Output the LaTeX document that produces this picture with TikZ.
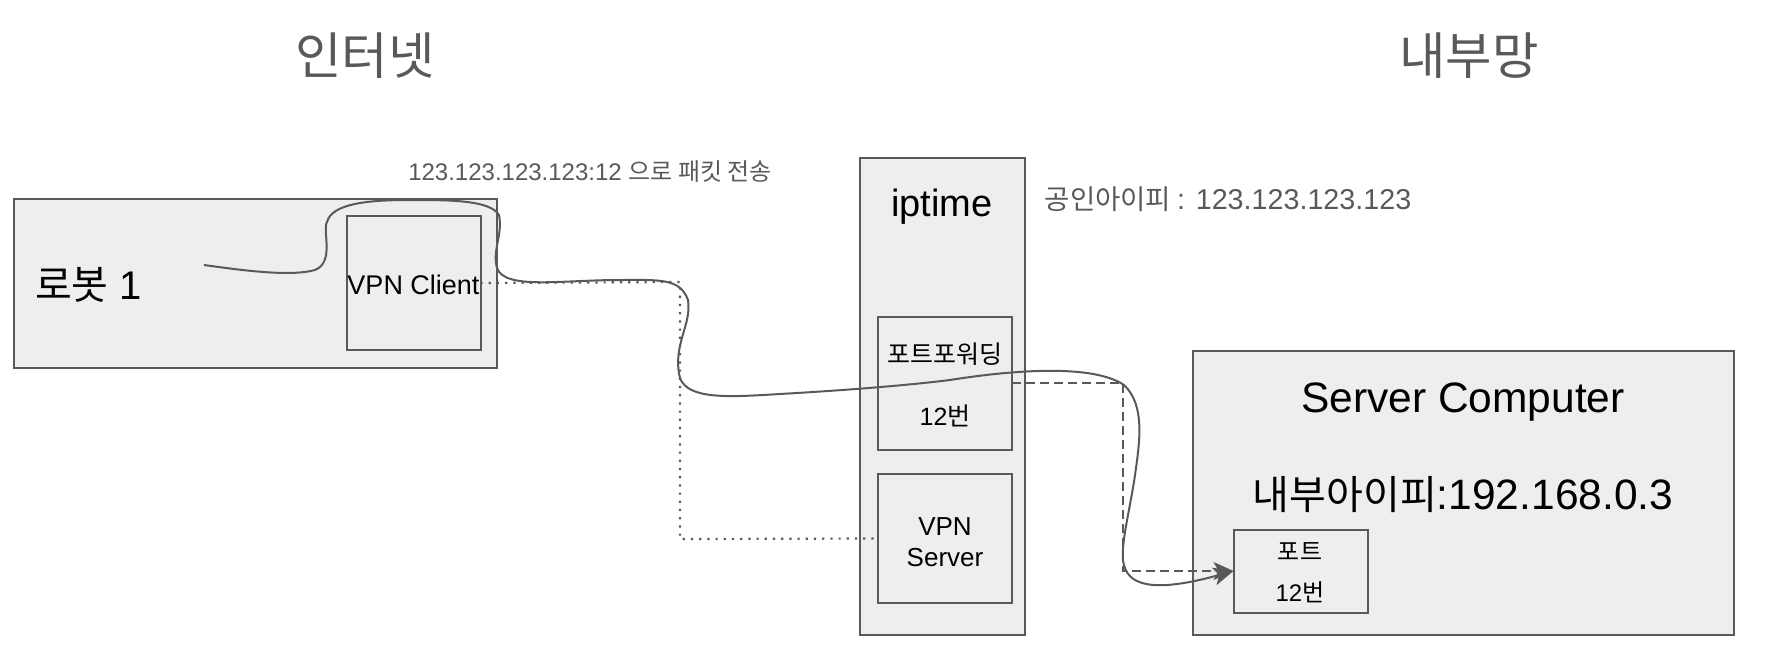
\documentclass[tikz,border=0pt]{standalone}
\usepackage{fontspec}
\setmainfont{Liberation Sans}
\newfontfamily\kr{Noto Sans CJK KR}
\usepackage{tikz}
\usetikzlibrary{arrows.meta, positioning}
\definecolor{boxgray}{HTML}{EEEEEE}
\definecolor{linegray}{HTML}{595959}

\begin{document}
\begin{tikzpicture}[
    x=1pt, y=-1pt,
    box/.style={rectangle, draw=linegray, line width=2pt, fill=boxgray, minimum width=#1, inner sep=0pt, outer sep=0pt},
    title/.style={text=linegray, font=\kr\fontsize{50.5}{58}\selectfont},
    note/.style={text=linegray, inner sep=0pt},
    tag/.style={text=black, inner sep=0pt, align=center},
    curve/.style={draw=linegray, line width=2pt, -{Stealth[length=20pt, width=18pt, inset=5pt]}},
    dashline/.style={draw=linegray, line width=2pt, dash pattern=on 9pt off 5pt, -{Stealth[length=20pt, width=18pt, inset=5pt]}},
    dotline/.style={draw=linegray, line width=2.2pt, dash pattern=on 2.2pt off 6pt}
]
\useasboundingbox (0,0) rectangle (1768,664);

% Titles
\node[title] (internet) at (365, 56) {인터넷};
\node[title] (intranet) at (1469, 56) {내부망};

% Robot
\node[box=483pt, minimum height=169pt] (robot) at (255.5, 283) {};
\node[box=134pt, minimum height=134pt] (client) at (413.5, 283) {};
\node[tag, font=\fontsize{27}{32}\selectfont] (clientname) at (413.5, 285) {VPN Client};
\node[tag, font=\fontsize{40}{46}\selectfont] (robotname) at (88.5, 285) {{\kr 로봇} 1};
\coordinate (curvestart) at (204, 265);

% iptime
\node[box=165pt, minimum height=477pt] (iptime) at (942, 396.5) {};
\node[tag, font=\fontsize{38}{44}\selectfont] (iptimename) at (942, 207) {iptime};
\node[box=134pt, minimum height=133pt] (forward) at (945, 383.5) {};
\node[tag, font=\fontsize{25}{31}\selectfont] (forwardname) at (945, 385) {{\kr 포트포워딩}\\[31pt]12{\kr 번}};
\node[box=134pt, minimum height=129pt] (vpnserver) at (945, 538.5) {};
\node[tag, font=\fontsize{26}{31}\selectfont] (vpnname) at (945, 542) {VPN\\Server};

% Notes
\node[note, font=\fontsize{24}{30}\selectfont] (sendnote) at (590, 172) {123.123.123.123:12 {\kr 으로 패킷 전송}};
\node[note, font=\fontsize{28.7}{34}\selectfont] (publicip) at (1228, 199) {{\kr\fontsize{27.5}{34}\selectfont 공인아이피}\hspace{-2pt} : 123.123.123.123};

% Server
\node[box=541pt, minimum height=284pt] (server) at (1463, 493) {};
\node[tag, font=\fontsize{42.5}{50}\selectfont] (servername) at (1463, 402) {Server Computer};
\node[tag, font=\fontsize{42.5}{50}\selectfont] (serverip) at (1463, 495) {{\kr\fontsize{40}{50}\selectfont 내부아이피}:192.168.0.3};
\node[box=134.5pt, minimum height=83pt] (port) at (1300.75, 571) {};
\node[tag, font=\fontsize{24}{30}\selectfont] (portname) at (1300, 573) {{\kr 포트}\\[11pt]12{\kr 번}};

% VPN tunnel
\coordinate (tunnelA) at (680, 282);
\coordinate (tunnelB) at (680, 539);
\draw[dotline] (client.east) -- (tunnelA) -- (tunnelB) -- (vpnserver.west);

% Port forward
\coordinate (forwardA) at (1123, 383);
\coordinate (forwardB) at (1123, 571);
\draw[dashline] (forward.east |- forwardA) -- (forwardA) -- (forwardB) -- (port.west);

% Packet path
\draw[curve] (curvestart)
    .. controls (240, 270) and (290, 277) .. (315, 270)
    .. controls (335, 262) and (322, 230) .. (327, 222)
    .. controls (332, 203) and (370, 200) .. (410, 200)
    .. controls (450, 200) and (490, 200) .. (499, 215)
    .. controls (503, 235) and (492, 250) .. (497, 268)
    .. controls (505, 290) and (560, 280) .. (620, 280)
    .. controls (660, 280) and (680, 278) .. (688, 300)
    .. controls (692, 325) and (672, 345) .. (680, 378)
    .. controls (688, 400) and (730, 397) .. (780, 394)
    .. controls (850, 390) and (910, 385) .. (950, 380)
    .. controls (1000, 372) and (1090, 362) .. (1124, 385)
    .. controls (1145, 405) and (1140, 440) .. (1135, 475)
    .. controls (1130, 510) and (1119, 550) .. (1124, 565)
    .. controls (1130, 590) and (1165, 590) .. (port.west);

\end{tikzpicture}
\end{document}
